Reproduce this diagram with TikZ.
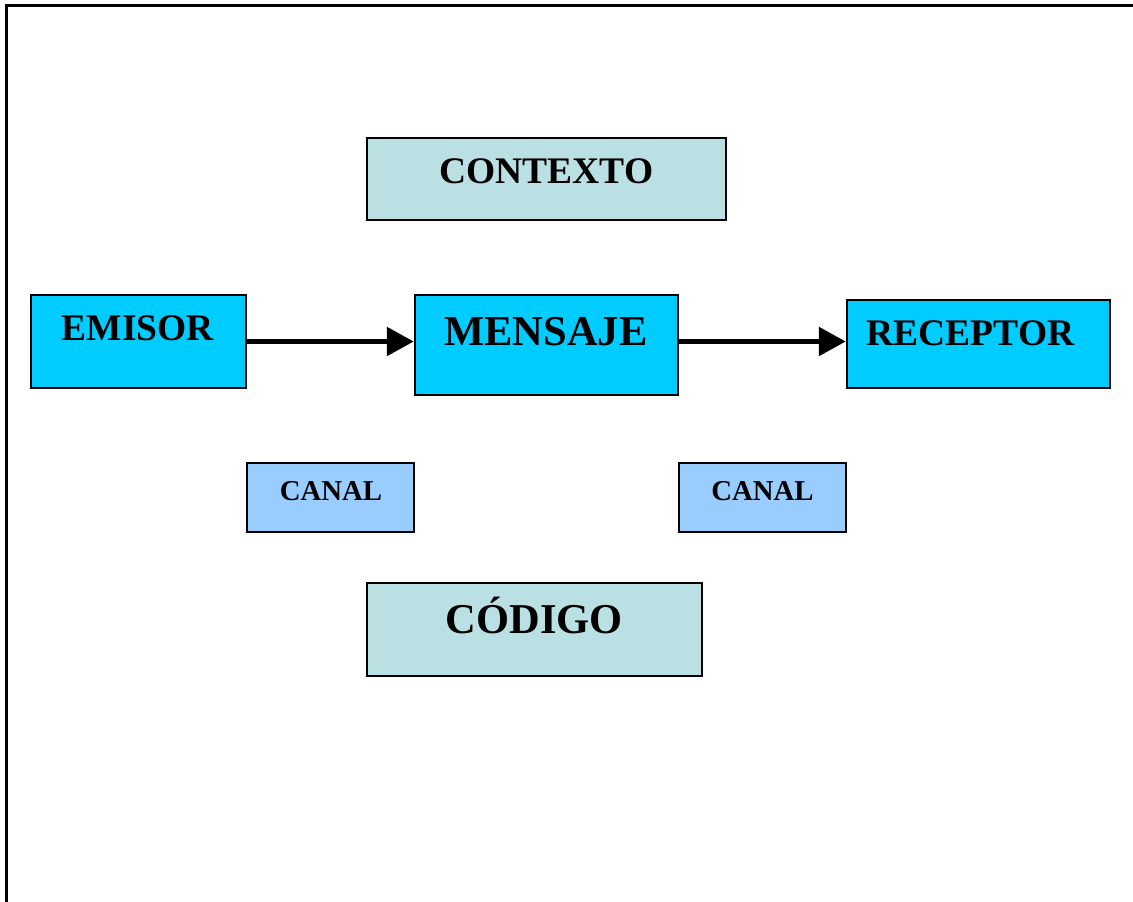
\documentclass[tikz,border=0pt]{standalone}
\usepackage{fontspec}
\setmainfont{Liberation Serif}
\usetikzlibrary{arrows.meta}
\definecolor{ctxfill}{HTML}{BBE0E3}
\definecolor{cyanfill}{HTML}{00CCFF}
\definecolor{canalfill}{HTML}{99CCFF}
\begin{document}
\begin{tikzpicture}[x=1pt,y=-1pt,
  cbox/.style={draw=black, line width=2.4pt, inner sep=0pt},
  lbl/.style={anchor=base, inner sep=0pt, font=\bfseries},
  big/.style={font=\fontsize{37.5}{44}\selectfont\bfseries},
  huge/.style={font=\fontsize{42.5}{50}\selectfont\bfseries},
  small/.style={font=\fontsize{28.8}{34}\selectfont\bfseries},
  flow/.style={line width=5.5pt, -{Triangle[length=27pt,width=28pt]}}]
\useasboundingbox (0,0) rectangle (1133,902);
\draw[line width=2.4pt] (6.5,902) -- (6.5,5.5) -- (1133,5.5);
% boxes
\node[cbox, fill=ctxfill, minimum width=359pt, minimum height=82pt] (contexto) at (546.5,179) {};
\node[cbox, fill=cyanfill, minimum width=215pt, minimum height=93pt] (emisor) at (138.5,341.5) {};
\node[cbox, fill=cyanfill, minimum width=263pt, minimum height=100pt] (mensaje) at (546.5,345) {};
\node[cbox, fill=cyanfill, minimum width=263pt, minimum height=88pt] (receptor) at (978.5,344) {};
\node[cbox, fill=canalfill, minimum width=167pt, minimum height=69pt] (canal1) at (330.5,497.5) {};
\node[cbox, fill=canalfill, minimum width=167pt, minimum height=69pt] (canal2) at (762.5,497.5) {};
\node[cbox, fill=ctxfill, minimum width=335pt, minimum height=93pt] (codigo) at (534.5,629.5) {};
% labels
\node[lbl, big] (tcontexto) at (546.5,183) {CONTEXTO};
\node[lbl, big] (temisor) at (138,340) {EMISOR};
\node[lbl, huge] (tmensaje) at (546,345) {MENSAJE};
\node[lbl, big] (treceptor) at (970.5,345) {RECEPTOR};
\node[lbl, small] (tcanal1) at (331,500) {CANAL};
\node[lbl, small] (tcanal2) at (762.5,500) {CANAL};
\node[lbl, huge] (tcodigo) at (534.5,633) {CÓDIGO};
% connectors
\draw[flow] (emisor.east) -- (emisor.east -| mensaje.west);
\draw[flow] (mensaje.east |- emisor.east) -- (receptor.west |- emisor.east);
\end{tikzpicture}
\end{document}
